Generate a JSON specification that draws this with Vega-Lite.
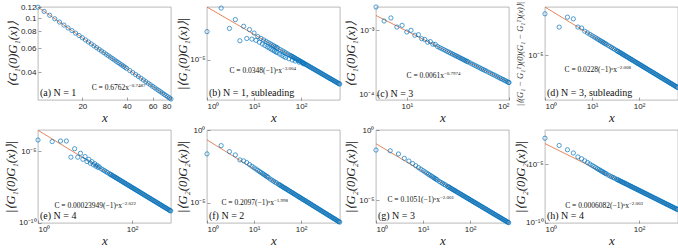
{
"$schema":"https://vega.github.io/schema/vega-lite/v6.json",
"padding":{"left":3,"top":1,"right":0,"bottom":0},
"background":"white",
"config":{
 "view":{"stroke":"#8c8c8c","strokeWidth":0.6},
 "axis":{"grid":false,"domain":false,"tickSize":-3,"tickColor":"#444","tickWidth":0.5,"labelFont":"Liberation Sans","labelFontSize":8,"labelColor":"#262626","labelPadding":5,"titleFont":"Liberation Serif","titleFontStyle":"italic","titleFontWeight":"normal","titleColor":"#262626"},
 "axisX":{"titleFontSize":13,"titleY":21,"titleBaseline":"alphabetic"},
 "axisY":{"titleFontSize":12.5},
 "point":{"opacity":0.9},
 "text":{"color":"#111"}
},
"datasets":{
"fit":[
{"p":"a","x":10,"y":0.1206},{"p":"a","x":80,"y":0.02542},
{"p":"b","x":1,"y":0.07},{"p":"b","x":660,"y":1.61e-7},
{"p":"c","x":5,"y":1.69e-3},{"p":"c","x":100,"y":1.55e-4},
{"p":"d","x":1,"y":0.023},{"p":"d","x":660,"y":5.28e-8},
{"p":"e","x":1,"y":3e-4},{"p":"e","x":660,"y":6.89e-10},
{"p":"f","x":1,"y":0.21},{"p":"f","x":660,"y":4.82e-7},
{"p":"g","x":1,"y":0.105},{"p":"g","x":660,"y":2.41e-7},
{"p":"h","x":1,"y":6e-4},{"p":"h","x":660,"y":1.38e-9}
],
"pts":[
{"p":"a","x":10,"y":0.1206},{"p":"a","x":11,"y":0.1123},{"p":"a","x":12,"y":0.1052},{"p":"a","x":13,"y":0.0991},{"p":"a","x":14,"y":0.09376},{"p":"a","x":15,"y":0.08902},{"p":"a","x":16,"y":0.08483},{"p":"a","x":17,"y":0.0811},{"p":"a","x":18,"y":0.07769},{"p":"a","x":19,"y":0.0746},{"p":"a","x":20,"y":0.0718},{"p":"a","x":21,"y":0.06923},{"p":"a","x":22,"y":0.06686},{"p":"a","x":23,"y":0.06467},{"p":"a","x":24,"y":0.06265},{"p":"a","x":25,"y":0.06076},{"p":"a","x":26,"y":0.059},{"p":"a","x":27,"y":0.05735},{"p":"a","x":28,"y":0.05581},{"p":"a","x":29,"y":0.05436},{"p":"a","x":30,"y":0.053},{"p":"a","x":31,"y":0.05171},{"p":"a","x":32,"y":0.0505},{"p":"a","x":33,"y":0.04934},{"p":"a","x":34,"y":0.04825},{"p":"a","x":35,"y":0.04721},{"p":"a","x":36,"y":0.04623},{"p":"a","x":37,"y":0.04529},{"p":"a","x":38,"y":0.04439},{"p":"a","x":39,"y":0.04354},{"p":"a","x":40,"y":0.04272},{"p":"a","x":42,"y":0.04119},{"p":"a","x":44,"y":0.03978},{"p":"a","x":46,"y":0.03848},{"p":"a","x":48,"y":0.03727},{"p":"a","x":50,"y":0.03615},{"p":"a","x":52,"y":0.0351},{"p":"a","x":54,"y":0.03412},{"p":"a","x":56,"y":0.0332},{"p":"a","x":58,"y":0.03235},{"p":"a","x":60,"y":0.03154},{"p":"a","x":62,"y":0.03077},{"p":"a","x":64,"y":0.03004},{"p":"a","x":66,"y":0.02937},{"p":"a","x":68,"y":0.02872},{"p":"a","x":70,"y":0.0281},{"p":"a","x":72,"y":0.02751},{"p":"a","x":74,"y":0.02696},{"p":"a","x":76,"y":0.02642},{"p":"a","x":78,"y":0.02592},{"p":"a","x":80,"y":0.02542},

{"p":"b","x":1,"y":0.00111},{"p":"b","x":2,"y":0.0593},{"p":"b","x":3,"y":0.00191},{"p":"b","x":4,"y":0.00853},{"p":"b","x":5,"y":0.000238},{"p":"b","x":6,"y":0.002748},{"p":"b","x":7,"y":0.000351},{"p":"b","x":8,"y":0.00158},{"p":"b","x":9,"y":0.000314},{"p":"b","x":10,"y":0.000881},{"p":"b","x":11,"y":2.586e-4},{"p":"b","x":12,"y":4.861e-4},{"p":"b","x":13,"y":1.851e-4},{"p":"b","x":14,"y":3.571e-4},{"p":"b","x":15,"y":1.391e-4},{"p":"b","x":16,"y":2.734e-4},{"p":"b","x":17,"y":1.083e-4},{"p":"b","x":18,"y":2.16e-4},{"p":"b","x":19,"y":8.67e-5},{"p":"b","x":20,"y":1.75e-4},{"p":"b","x":21,"y":7.09e-5},{"p":"b","x":22,"y":1.446e-4},{"p":"b","x":23,"y":5.92e-5},{"p":"b","x":24,"y":1.215e-4},{"p":"b","x":25,"y":5.01e-5},{"p":"b","x":26,"y":1.036e-4},{"p":"b","x":27,"y":4.29e-5},{"p":"b","x":28,"y":8.93e-5},{"p":"b","x":29,"y":3.72e-5},{"p":"b","x":30,"y":7.78e-5},{"p":"b","x":31,"y":3.26e-5},{"p":"b","x":32,"y":6.836e-5},{"p":"b","x":35,"y":2.55e-5},{"p":"b","x":36,"y":5.401e-5},{"p":"b","x":39,"y":2.06e-5},{"p":"b","x":40,"y":4.375e-5},{"p":"b","x":43,"y":1.69e-5},{"p":"b","x":44,"y":3.616e-5},{"p":"b","x":47,"y":1.42e-5},{"p":"b","x":48,"y":3.038e-5},{"p":"b","x":53,"y":2.492e-5},{"p":"b","x":55,"y":1.16e-5},{"p":"b","x":58,"y":2.081e-5},{"p":"b","x":64,"y":1.709e-5},{"p":"b","x":65,"y":9.31e-6},{"p":"b","x":70,"y":1.429e-5},{"p":"b","x":75,"y":7.85e-6},{"p":"b","x":77,"y":1.181e-5},{"p":"b","x":85,"y":9.69e-6},{"p":"b","x":91,"y":6.42e-6},{"p":"b","x":93,"y":8.09e-6},{"p":"b","x":102,"y":6.73e-6},{"p":"b","x":111,"y":4.95e-6},{"p":"b","x":112,"y":5.58e-6},{"p":"b","x":123,"y":4.63e-6},{"p":"b","x":135,"y":3.84e-6},{"p":"b","x":148,"y":3.2e-6},{"p":"b","x":163,"y":2.63e-6},{"p":"b","x":179,"y":2.18e-6},{"p":"b","x":197,"y":1.8e-6},{"p":"b","x":217,"y":1.49e-6},{"p":"b","x":238,"y":1.24e-6},{"p":"b","x":262,"y":1.02e-6},{"p":"b","x":288,"y":8.44e-7},{"p":"b","x":317,"y":6.97e-7},{"p":"b","x":349,"y":5.75e-7},{"p":"b","x":384,"y":4.75e-7},{"p":"b","x":422,"y":3.93e-7},{"p":"b","x":464,"y":3.25e-7},{"p":"b","x":510,"y":2.69e-7},{"p":"b","x":560,"y":2.23e-7},{"p":"b","x":616,"y":1.84e-7},{"p":"b","x":660,"y":1.61e-7},
{"p":"b","x":61,"y":1.881e-5},{"p":"b","x":67,"y":1.559e-5},{"p":"b","x":73,"y":1.314e-5},{"p":"b","x":81,"y":1.067e-5},{"p":"b","x":89,"y":8.84e-6},{"p":"b","x":97,"y":7.44e-6},{"p":"b","x":107,"y":6.11e-6},{"p":"b","x":117,"y":5.11e-6},{"p":"b","x":129,"y":4.21e-6},{"p":"b","x":141,"y":3.52e-6},{"p":"b","x":155,"y":2.91e-6},{"p":"b","x":171,"y":2.39e-6},{"p":"b","x":188,"y":1.98e-6},{"p":"b","x":207,"y":1.63e-6},{"p":"b","x":227,"y":1.358e-6},{"p":"b","x":250,"y":1.12e-6},{"p":"b","x":275,"y":9.26e-7},{"p":"b","x":302,"y":7.67e-7},{"p":"b","x":333,"y":6.31e-7},{"p":"b","x":366,"y":5.23e-7},{"p":"b","x":403,"y":4.31e-7},{"p":"b","x":443,"y":3.57e-7},{"p":"b","x":487,"y":2.95e-7},{"p":"b","x":535,"y":2.45e-7},{"p":"b","x":588,"y":2.02e-7},{"p":"b","x":638,"y":1.72e-7},

{"p":"c","x":5,"y":2.29e-3},{"p":"c","x":6,"y":1.39e-3},{"p":"c","x":7,"y":1.55e-3},{"p":"c","x":8,"y":1.12e-3},{"p":"c","x":9,"y":1.19e-3},{"p":"c","x":10,"y":9.4e-4},{"p":"c","x":11,"y":9.98e-4},{"p":"c","x":12,"y":8.36e-4},{"p":"c","x":13,"y":8.53e-4},{"p":"c","x":14,"y":7.4e-4},{"p":"c","x":15,"y":7.2e-4},{"p":"c","x":16,"y":6.53e-4},{"p":"c","x":17,"y":6.67e-4},{"p":"c","x":18,"y":6.08e-4},{"p":"c","x":19,"y":6.04e-4},{"p":"c","x":20,"y":5.6e-4},{"p":"c","x":21,"y":5.38e-4},{"p":"c","x":22,"y":5.19e-4},{"p":"c","x":23,"y":5.01e-4},{"p":"c","x":24,"y":4.84e-4},{"p":"c","x":25,"y":4.68e-4},{"p":"c","x":26,"y":4.54e-4},{"p":"c","x":27,"y":4.4e-4},{"p":"c","x":28,"y":4.28e-4},{"p":"c","x":29,"y":4.16e-4},{"p":"c","x":30,"y":4.05e-4},{"p":"c","x":31,"y":3.95e-4},{"p":"c","x":32,"y":3.85e-4},{"p":"c","x":33,"y":3.75e-4},{"p":"c","x":34,"y":3.67e-4},{"p":"c","x":35,"y":3.58e-4},{"p":"c","x":36,"y":3.5e-4},{"p":"c","x":37,"y":3.43e-4},{"p":"c","x":38,"y":3.35e-4},{"p":"c","x":39,"y":3.29e-4},{"p":"c","x":40,"y":3.22e-4},{"p":"c","x":42,"y":3.1e-4},{"p":"c","x":44,"y":2.98e-4},{"p":"c","x":46,"y":2.88e-4},{"p":"c","x":48,"y":2.78e-4},{"p":"c","x":50,"y":2.69e-4},{"p":"c","x":52,"y":2.61e-4},{"p":"c","x":54,"y":2.53e-4},{"p":"c","x":56,"y":2.46e-4},{"p":"c","x":58,"y":2.39e-4},{"p":"c","x":60,"y":2.33e-4},{"p":"c","x":63,"y":2.24e-4},{"p":"c","x":66,"y":2.16e-4},{"p":"c","x":69,"y":2.08e-4},{"p":"c","x":72,"y":2.02e-4},{"p":"c","x":75,"y":1.95e-4},{"p":"c","x":78,"y":1.89e-4},{"p":"c","x":81,"y":1.83e-4},{"p":"c","x":84,"y":1.78e-4},{"p":"c","x":87,"y":1.73e-4},{"p":"c","x":90,"y":1.69e-4},{"p":"c","x":93,"y":1.64e-4},{"p":"c","x":96,"y":1.6e-4},{"p":"c","x":99,"y":1.56e-4},{"p":"c","x":100,"y":1.55e-4},

{"p":"d","x":1,"y":0.0078},{"p":"d","x":2,"y":9.1e-4},{"p":"d","x":3,"y":4.54e-3},{"p":"d","x":4,"y":3.45e-3},{"p":"d","x":5,"y":9.2e-4},{"p":"d","x":6,"y":7.86e-4},{"p":"d","x":7,"y":4.69e-4},{"p":"d","x":8,"y":3.59e-4},{"p":"d","x":9,"y":2.84e-4},{"p":"d","x":10,"y":2.3e-4},{"p":"d","x":11,"y":1.9e-4},{"p":"d","x":12,"y":1.6e-4},{"p":"d","x":13,"y":1.36e-4},{"p":"d","x":14,"y":1.17e-4},{"p":"d","x":15,"y":1.02e-4},{"p":"d","x":16,"y":8.98e-5},{"p":"d","x":17,"y":7.96e-5},{"p":"d","x":18,"y":7.1e-5},{"p":"d","x":19,"y":6.37e-5},{"p":"d","x":20,"y":5.75e-5},{"p":"d","x":22,"y":4.75e-5},{"p":"d","x":24,"y":3.99e-5},{"p":"d","x":26,"y":3.4e-5},{"p":"d","x":28,"y":2.93e-5},{"p":"d","x":30,"y":2.56e-5},{"p":"d","x":33,"y":2.11e-5},{"p":"d","x":36,"y":1.77e-5},{"p":"d","x":40,"y":1.44e-5},{"p":"d","x":44,"y":1.19e-5},{"p":"d","x":48,"y":9.98e-6},{"p":"d","x":53,"y":8.19e-6},{"p":"d","x":58,"y":6.84e-6},{"p":"d","x":64,"y":5.62e-6},{"p":"d","x":70,"y":4.69e-6},{"p":"d","x":77,"y":3.88e-6},{"p":"d","x":85,"y":3.18e-6},{"p":"d","x":93,"y":2.66e-6},{"p":"d","x":102,"y":2.21e-6},{"p":"d","x":112,"y":1.83e-6},{"p":"d","x":123,"y":1.52e-6},{"p":"d","x":135,"y":1.26e-6},{"p":"d","x":148,"y":1.05e-6},{"p":"d","x":163,"y":8.66e-7},{"p":"d","x":179,"y":7.18e-7},{"p":"d","x":197,"y":5.93e-7},{"p":"d","x":217,"y":4.88e-7},{"p":"d","x":238,"y":4.06e-7},{"p":"d","x":262,"y":3.35e-7},{"p":"d","x":288,"y":2.77e-7},{"p":"d","x":317,"y":2.29e-7},{"p":"d","x":349,"y":1.89e-7},{"p":"d","x":384,"y":1.56e-7},{"p":"d","x":422,"y":1.29e-7},{"p":"d","x":464,"y":1.07e-7},{"p":"d","x":510,"y":8.84e-8},{"p":"d","x":560,"y":7.33e-8},{"p":"d","x":616,"y":6.06e-8},{"p":"d","x":660,"y":5.28e-8},
{"p":"d","x":35,"y":1.878e-5},{"p":"d","x":38,"y":1.593e-5},{"p":"d","x":42,"y":1.304e-5},{"p":"d","x":46,"y":1.087e-5},{"p":"d","x":50,"y":9.2e-6},{"p":"d","x":55,"y":7.6e-6},{"p":"d","x":61,"y":6.18e-6},{"p":"d","x":67,"y":5.12e-6},{"p":"d","x":73,"y":4.32e-6},{"p":"d","x":81,"y":3.51e-6},{"p":"d","x":89,"y":2.9e-6},{"p":"d","x":97,"y":2.44e-6},{"p":"d","x":107,"y":2.01e-6},{"p":"d","x":117,"y":1.68e-6},{"p":"d","x":129,"y":1.38e-6},{"p":"d","x":141,"y":1.157e-6},{"p":"d","x":155,"y":9.57e-7},{"p":"d","x":171,"y":7.87e-7},{"p":"d","x":188,"y":6.51e-7},{"p":"d","x":207,"y":5.37e-7},{"p":"d","x":227,"y":4.46e-7},{"p":"d","x":250,"y":3.68e-7},{"p":"d","x":275,"y":3.04e-7},{"p":"d","x":302,"y":2.52e-7},{"p":"d","x":333,"y":2.07e-7},{"p":"d","x":366,"y":1.72e-7},{"p":"d","x":403,"y":1.416e-7},{"p":"d","x":443,"y":1.172e-7},{"p":"d","x":487,"y":9.7e-8},{"p":"d","x":535,"y":8.04e-8},{"p":"d","x":588,"y":6.65e-8},{"p":"d","x":638,"y":5.65e-8},

{"p":"e","x":1,"y":6.31e-5},{"p":"e","x":2,"y":4.9e-5},{"p":"e","x":3,"y":5.37e-5},{"p":"e","x":4,"y":5.37e-5},{"p":"e","x":5,"y":3.98e-6},{"p":"e","x":6,"y":1.55e-5},{"p":"e","x":7,"y":3.98e-6},{"p":"e","x":8,"y":7.41e-6},{"p":"e","x":9,"y":2.82e-6},{"p":"e","x":10,"y":4.37e-6},{"p":"e","x":11,"y":1.97e-6},{"p":"e","x":12,"y":2.81e-6},{"p":"e","x":13,"y":1.48e-6},{"p":"e","x":14,"y":1.93e-6},{"p":"e","x":15,"y":1.16e-6},{"p":"e","x":16,"y":1.41e-6},{"p":"e","x":17,"y":9.25e-7},{"p":"e","x":18,"y":1.06e-6},{"p":"e","x":19,"y":7.58e-7},{"p":"e","x":20,"y":8.42e-7},{"p":"e","x":22,"y":6.2e-7},{"p":"e","x":24,"y":5.21e-7},{"p":"e","x":26,"y":4.44e-7},{"p":"e","x":28,"y":3.83e-7},{"p":"e","x":30,"y":3.33e-7},{"p":"e","x":33,"y":2.75e-7},{"p":"e","x":36,"y":2.31e-7},{"p":"e","x":40,"y":1.88e-7},{"p":"e","x":44,"y":1.55e-7},{"p":"e","x":48,"y":1.3e-7},{"p":"e","x":53,"y":1.07e-7},{"p":"e","x":58,"y":8.92e-8},{"p":"e","x":64,"y":7.32e-8},{"p":"e","x":70,"y":6.12e-8},{"p":"e","x":77,"y":5.06e-8},{"p":"e","x":85,"y":4.15e-8},{"p":"e","x":93,"y":3.47e-8},{"p":"e","x":102,"y":2.88e-8},{"p":"e","x":112,"y":2.39e-8},{"p":"e","x":123,"y":1.98e-8},{"p":"e","x":135,"y":1.65e-8},{"p":"e","x":148,"y":1.37e-8},{"p":"e","x":163,"y":1.13e-8},{"p":"e","x":179,"y":9.36e-9},{"p":"e","x":197,"y":7.73e-9},{"p":"e","x":217,"y":6.37e-9},{"p":"e","x":238,"y":5.3e-9},{"p":"e","x":262,"y":4.37e-9},{"p":"e","x":288,"y":3.62e-9},{"p":"e","x":317,"y":2.99e-9},{"p":"e","x":349,"y":2.46e-9},{"p":"e","x":384,"y":2.03e-9},{"p":"e","x":422,"y":1.68e-9},{"p":"e","x":464,"y":1.39e-9},{"p":"e","x":510,"y":1.15e-9},{"p":"e","x":560,"y":9.57e-10},{"p":"e","x":616,"y":7.91e-10},{"p":"e","x":660,"y":6.89e-10},
{"p":"e","x":35,"y":2.449e-7},{"p":"e","x":38,"y":2.078e-7},{"p":"e","x":42,"y":1.701e-7},{"p":"e","x":46,"y":1.418e-7},{"p":"e","x":50,"y":1.2e-7},{"p":"e","x":55,"y":9.92e-8},{"p":"e","x":61,"y":8.06e-8},{"p":"e","x":67,"y":6.68e-8},{"p":"e","x":73,"y":5.63e-8},{"p":"e","x":81,"y":4.57e-8},{"p":"e","x":89,"y":3.79e-8},{"p":"e","x":97,"y":3.19e-8},{"p":"e","x":107,"y":2.62e-8},{"p":"e","x":117,"y":2.19e-8},{"p":"e","x":129,"y":1.8e-8},{"p":"e","x":141,"y":1.509e-8},{"p":"e","x":155,"y":1.249e-8},{"p":"e","x":171,"y":1.026e-8},{"p":"e","x":188,"y":8.49e-9},{"p":"e","x":207,"y":7e-9},{"p":"e","x":227,"y":5.82e-9},{"p":"e","x":250,"y":4.8e-9},{"p":"e","x":275,"y":3.97e-9},{"p":"e","x":302,"y":3.29e-9},{"p":"e","x":333,"y":2.71e-9},{"p":"e","x":366,"y":2.24e-9},{"p":"e","x":403,"y":1.847e-9},{"p":"e","x":443,"y":1.529e-9},{"p":"e","x":487,"y":1.265e-9},{"p":"e","x":535,"y":1.048e-9},{"p":"e","x":588,"y":8.68e-10},{"p":"e","x":638,"y":7.37e-10},

{"p":"f","x":1,"y":0.023},{"p":"f","x":2,"y":0.085},{"p":"f","x":3,"y":0.033},{"p":"f","x":4,"y":0.0195},{"p":"f","x":5,"y":0.0089},{"p":"f","x":6,"y":0.0076},{"p":"f","x":7,"y":0.0058},{"p":"f","x":8,"y":4.23e-3},{"p":"f","x":9,"y":3.26e-3},{"p":"f","x":10,"y":2.58e-3},{"p":"f","x":11,"y":2.09e-3},{"p":"f","x":12,"y":1.71e-3},{"p":"f","x":13,"y":1.43e-3},{"p":"f","x":14,"y":1.23e-3},{"p":"f","x":15,"y":1.05e-3},{"p":"f","x":16,"y":9.2e-4},{"p":"f","x":17,"y":7.97e-4},{"p":"f","x":18,"y":7.1e-4},{"p":"f","x":19,"y":6.24e-4},{"p":"f","x":20,"y":5.63e-4},{"p":"f","x":22,"y":4.34e-4},{"p":"f","x":24,"y":3.65e-4},{"p":"f","x":26,"y":3.11e-4},{"p":"f","x":28,"y":2.68e-4},{"p":"f","x":30,"y":2.33e-4},{"p":"f","x":33,"y":1.93e-4},{"p":"f","x":36,"y":1.62e-4},{"p":"f","x":40,"y":1.31e-4},{"p":"f","x":44,"y":1.08e-4},{"p":"f","x":48,"y":9.11e-5},{"p":"f","x":53,"y":7.48e-5},{"p":"f","x":58,"y":6.24e-5},{"p":"f","x":64,"y":5.13e-5},{"p":"f","x":70,"y":4.29e-5},{"p":"f","x":77,"y":3.54e-5},{"p":"f","x":85,"y":2.91e-5},{"p":"f","x":93,"y":2.43e-5},{"p":"f","x":102,"y":2.02e-5},{"p":"f","x":112,"y":1.67e-5},{"p":"f","x":123,"y":1.39e-5},{"p":"f","x":135,"y":1.15e-5},{"p":"f","x":148,"y":9.59e-6},{"p":"f","x":163,"y":7.9e-6},{"p":"f","x":179,"y":6.55e-6},{"p":"f","x":197,"y":5.41e-6},{"p":"f","x":217,"y":4.46e-6},{"p":"f","x":238,"y":3.71e-6},{"p":"f","x":262,"y":3.06e-6},{"p":"f","x":288,"y":2.53e-6},{"p":"f","x":317,"y":2.09e-6},{"p":"f","x":349,"y":1.72e-6},{"p":"f","x":384,"y":1.42e-6},{"p":"f","x":422,"y":1.18e-6},{"p":"f","x":464,"y":9.75e-7},{"p":"f","x":510,"y":8.07e-7},{"p":"f","x":560,"y":6.7e-7},{"p":"f","x":616,"y":5.53e-7},{"p":"f","x":660,"y":4.82e-7},
{"p":"f","x":35,"y":1.714e-4},{"p":"f","x":38,"y":1.454e-4},{"p":"f","x":42,"y":1.19e-4},{"p":"f","x":46,"y":9.92e-5},{"p":"f","x":50,"y":8.4e-5},{"p":"f","x":55,"y":6.94e-5},{"p":"f","x":61,"y":5.64e-5},{"p":"f","x":67,"y":4.68e-5},{"p":"f","x":73,"y":3.94e-5},{"p":"f","x":81,"y":3.2e-5},{"p":"f","x":89,"y":2.65e-5},{"p":"f","x":97,"y":2.23e-5},{"p":"f","x":107,"y":1.834e-5},{"p":"f","x":117,"y":1.534e-5},{"p":"f","x":129,"y":1.262e-5},{"p":"f","x":141,"y":1.056e-5},{"p":"f","x":155,"y":8.74e-6},{"p":"f","x":171,"y":7.18e-6},{"p":"f","x":188,"y":5.94e-6},{"p":"f","x":207,"y":4.9e-6},{"p":"f","x":227,"y":4.08e-6},{"p":"f","x":250,"y":3.36e-6},{"p":"f","x":275,"y":2.78e-6},{"p":"f","x":302,"y":2.3e-6},{"p":"f","x":333,"y":1.894e-6},{"p":"f","x":366,"y":1.568e-6},{"p":"f","x":403,"y":1.293e-6},{"p":"f","x":443,"y":1.07e-6},{"p":"f","x":487,"y":8.85e-7},{"p":"f","x":535,"y":7.34e-7},{"p":"f","x":588,"y":6.07e-7},{"p":"f","x":638,"y":5.16e-7},

{"p":"g","x":1,"y":0.037},{"p":"g","x":2,"y":0.033},{"p":"g","x":3,"y":0.0194},{"p":"g","x":4,"y":0.0095},{"p":"g","x":5,"y":0.0061},{"p":"g","x":6,"y":4.03e-3},{"p":"g","x":7,"y":2.82e-3},{"p":"g","x":8,"y":2.07e-3},{"p":"g","x":9,"y":1.59e-3},{"p":"g","x":10,"y":1.26e-3},{"p":"g","x":11,"y":1.02e-3},{"p":"g","x":12,"y":8.37e-4},{"p":"g","x":13,"y":6.97e-4},{"p":"g","x":14,"y":6.01e-4},{"p":"g","x":15,"y":5.12e-4},{"p":"g","x":16,"y":4.49e-4},{"p":"g","x":17,"y":3.89e-4},{"p":"g","x":18,"y":3.47e-4},{"p":"g","x":19,"y":3.05e-4},{"p":"g","x":20,"y":2.75e-4},{"p":"g","x":22,"y":2.17e-4},{"p":"g","x":24,"y":1.82e-4},{"p":"g","x":26,"y":1.55e-4},{"p":"g","x":28,"y":1.34e-4},{"p":"g","x":30,"y":1.17e-4},{"p":"g","x":33,"y":9.64e-5},{"p":"g","x":36,"y":8.1e-5},{"p":"g","x":40,"y":6.56e-5},{"p":"g","x":44,"y":5.42e-5},{"p":"g","x":48,"y":4.56e-5},{"p":"g","x":53,"y":3.74e-5},{"p":"g","x":58,"y":3.12e-5},{"p":"g","x":64,"y":2.56e-5},{"p":"g","x":70,"y":2.14e-5},{"p":"g","x":77,"y":1.77e-5},{"p":"g","x":85,"y":1.45e-5},{"p":"g","x":93,"y":1.21e-5},{"p":"g","x":102,"y":1.01e-5},{"p":"g","x":112,"y":8.37e-6},{"p":"g","x":123,"y":6.94e-6},{"p":"g","x":135,"y":5.76e-6},{"p":"g","x":148,"y":4.79e-6},{"p":"g","x":163,"y":3.95e-6},{"p":"g","x":179,"y":3.28e-6},{"p":"g","x":197,"y":2.71e-6},{"p":"g","x":217,"y":2.23e-6},{"p":"g","x":238,"y":1.85e-6},{"p":"g","x":262,"y":1.53e-6},{"p":"g","x":288,"y":1.27e-6},{"p":"g","x":317,"y":1.04e-6},{"p":"g","x":349,"y":8.62e-7},{"p":"g","x":384,"y":7.12e-7},{"p":"g","x":422,"y":5.9e-7},{"p":"g","x":464,"y":4.88e-7},{"p":"g","x":510,"y":4.04e-7},{"p":"g","x":560,"y":3.35e-7},{"p":"g","x":616,"y":2.77e-7},{"p":"g","x":660,"y":2.41e-7},
{"p":"g","x":35,"y":8.57e-5},{"p":"g","x":38,"y":7.27e-5},{"p":"g","x":42,"y":5.95e-5},{"p":"g","x":46,"y":4.96e-5},{"p":"g","x":50,"y":4.2e-5},{"p":"g","x":55,"y":3.47e-5},{"p":"g","x":61,"y":2.82e-5},{"p":"g","x":67,"y":2.34e-5},{"p":"g","x":73,"y":1.97e-5},{"p":"g","x":81,"y":1.6e-5},{"p":"g","x":89,"y":1.326e-5},{"p":"g","x":97,"y":1.116e-5},{"p":"g","x":107,"y":9.17e-6},{"p":"g","x":117,"y":7.67e-6},{"p":"g","x":129,"y":6.31e-6},{"p":"g","x":141,"y":5.28e-6},{"p":"g","x":155,"y":4.37e-6},{"p":"g","x":171,"y":3.59e-6},{"p":"g","x":188,"y":2.97e-6},{"p":"g","x":207,"y":2.45e-6},{"p":"g","x":227,"y":2.04e-6},{"p":"g","x":250,"y":1.68e-6},{"p":"g","x":275,"y":1.389e-6},{"p":"g","x":302,"y":1.151e-6},{"p":"g","x":333,"y":9.47e-7},{"p":"g","x":366,"y":7.84e-7},{"p":"g","x":403,"y":6.47e-7},{"p":"g","x":443,"y":5.35e-7},{"p":"g","x":487,"y":4.43e-7},{"p":"g","x":535,"y":3.67e-7},{"p":"g","x":588,"y":3.04e-7},{"p":"g","x":638,"y":2.58e-7},

{"p":"h","x":1,"y":1.73e-3},{"p":"h","x":2,"y":4.13e-4},{"p":"h","x":3,"y":1.79e-4},{"p":"h","x":4,"y":9.42e-5},{"p":"h","x":5,"y":4.37e-5},{"p":"h","x":6,"y":3.03e-5},{"p":"h","x":7,"y":2.03e-5},{"p":"h","x":8,"y":1.45e-5},{"p":"h","x":9,"y":1.07e-5},{"p":"h","x":10,"y":8.28e-6},{"p":"h","x":11,"y":6.54e-6},{"p":"h","x":12,"y":5.25e-6},{"p":"h","x":13,"y":4.27e-6},{"p":"h","x":14,"y":3.6e-6},{"p":"h","x":15,"y":3.06e-6},{"p":"h","x":16,"y":2.63e-6},{"p":"h","x":17,"y":2.28e-6},{"p":"h","x":18,"y":1.99e-6},{"p":"h","x":19,"y":1.74e-6},{"p":"h","x":20,"y":1.57e-6},{"p":"h","x":22,"y":1.24e-6},{"p":"h","x":24,"y":1.04e-6},{"p":"h","x":26,"y":8.88e-7},{"p":"h","x":28,"y":7.65e-7},{"p":"h","x":30,"y":6.67e-7},{"p":"h","x":33,"y":5.51e-7},{"p":"h","x":36,"y":4.63e-7},{"p":"h","x":40,"y":3.75e-7},{"p":"h","x":44,"y":3.1e-7},{"p":"h","x":48,"y":2.6e-7},{"p":"h","x":53,"y":2.14e-7},{"p":"h","x":58,"y":1.78e-7},{"p":"h","x":64,"y":1.46e-7},{"p":"h","x":70,"y":1.22e-7},{"p":"h","x":77,"y":1.01e-7},{"p":"h","x":85,"y":8.3e-8},{"p":"h","x":93,"y":6.94e-8},{"p":"h","x":102,"y":5.77e-8},{"p":"h","x":112,"y":4.78e-8},{"p":"h","x":123,"y":3.97e-8},{"p":"h","x":135,"y":3.29e-8},{"p":"h","x":148,"y":2.74e-8},{"p":"h","x":163,"y":2.26e-8},{"p":"h","x":179,"y":1.87e-8},{"p":"h","x":197,"y":1.55e-8},{"p":"h","x":217,"y":1.27e-8},{"p":"h","x":238,"y":1.06e-8},{"p":"h","x":262,"y":8.74e-9},{"p":"h","x":288,"y":7.23e-9},{"p":"h","x":317,"y":5.97e-9},{"p":"h","x":349,"y":4.93e-9},{"p":"h","x":384,"y":4.07e-9},{"p":"h","x":422,"y":3.37e-9},{"p":"h","x":464,"y":2.79e-9},{"p":"h","x":510,"y":2.31e-9},{"p":"h","x":560,"y":1.91e-9},{"p":"h","x":616,"y":1.58e-9},{"p":"h","x":660,"y":1.38e-9},
{"p":"h","x":35,"y":4.898e-7},{"p":"h","x":38,"y":4.155e-7},{"p":"h","x":42,"y":3.401e-7},{"p":"h","x":46,"y":2.836e-7},{"p":"h","x":50,"y":2.4e-7},{"p":"h","x":55,"y":1.983e-7},{"p":"h","x":61,"y":1.612e-7},{"p":"h","x":67,"y":1.337e-7},{"p":"h","x":73,"y":1.126e-7},{"p":"h","x":81,"y":9.15e-8},{"p":"h","x":89,"y":7.58e-8},{"p":"h","x":97,"y":6.38e-8},{"p":"h","x":107,"y":5.24e-8},{"p":"h","x":117,"y":4.38e-8},{"p":"h","x":129,"y":3.61e-8},{"p":"h","x":141,"y":3.02e-8},{"p":"h","x":155,"y":2.5e-8},{"p":"h","x":171,"y":2.05e-8},{"p":"h","x":188,"y":1.7e-8},{"p":"h","x":207,"y":1.4e-8},{"p":"h","x":227,"y":1.164e-8},{"p":"h","x":250,"y":9.6e-9},{"p":"h","x":275,"y":7.93e-9},{"p":"h","x":302,"y":6.58e-9},{"p":"h","x":333,"y":5.41e-9},{"p":"h","x":366,"y":4.48e-9},{"p":"h","x":403,"y":3.69e-9},{"p":"h","x":443,"y":3.06e-9},{"p":"h","x":487,"y":2.53e-9},{"p":"h","x":535,"y":2.1e-9},{"p":"h","x":588,"y":1.735e-9},{"p":"h","x":638,"y":1.474e-9}
]
},
"columns":4,
"spacing":{"row":30,"column":36},
"bounds":"flush",
"concat":[
{"width":133,"height":93,"layer":[
 {"data":{"name":"fit"},"transform":[{"filter":"datum.p=='a'"}],"mark":{"type":"line","stroke":"#D95319","strokeWidth":0.7},
  "encoding":{"x":{"field":"x","type":"quantitative","scale":{"type":"log","domain":[10,80],"nice":false},"axis":{"values":[20,40,60,80],"format":"d","title":"x"}},
   "y":{"field":"y","type":"quantitative","scale":{"type":"log","domain":[0.025,0.121],"nice":false},"axis":{"values":[0.04,0.06,0.08,0.1,0.12],"format":".2~f","title":"⟨G₁(0)G₁(x)⟩","titleX":-19}}}},
 {"data":{"name":"pts"},"transform":[{"filter":"datum.p=='a'"}],"mark":{"type":"point","shape":"circle","filled":false,"size":18,"stroke":"#0072BD","strokeWidth":0.75},
  "encoding":{"x":{"field":"x","type":"quantitative"},"y":{"field":"y","type":"quantitative"}}},
 {"data":{"values":[{}]},"mark":{"type":"text","align":"left","baseline":"alphabetic","font":"Liberation Serif","fontSize":10},"encoding":{"x":{"datum":10.3},"y":{"datum":0.02675},"text":{"value":"(a) N = 1"}}},
 {"data":{"values":[{}]},"mark":{"type":"text","align":"right","baseline":"alphabetic","font":"Liberation Serif","fontSize":7.5},"encoding":{"x":{"datum":41.5},"y":{"datum":0.02961},"text":{"value":"C = 0.6762x"}}},
 {"data":{"values":[{}]},"mark":{"type":"text","align":"left","baseline":"alphabetic","font":"Liberation Serif","fontSize":5},"encoding":{"x":{"datum":41.5},"y":{"datum":0.03115},"text":{"value":"−0.7487"}}}
]},
{"width":133,"height":93,"layer":[
 {"data":{"name":"fit"},"transform":[{"filter":"datum.p=='b'"}],"mark":{"type":"line","stroke":"#D95319","strokeWidth":0.7},
  "encoding":{"x":{"field":"x","type":"quantitative","scale":{"type":"log","domain":[1,670],"nice":false},"axis":{"values":[1,10,100],"labelExpr":"'10' + replace(replace(replace(replace(replace(replace(replace('' + round(log(datum.value)/LN10), '-', '⁻'), '0', '⁰'), '1', '¹'), '2', '²'), '3', '³'), '4', '⁴'), '5', '⁵')","title":"x"}},
   "y":{"field":"y","type":"quantitative","scale":{"type":"log","domain":[1.1e-8,0.0708],"nice":false},"axis":{"values":[1e-5],"labelExpr":"'10' + replace(replace(replace(replace(replace(replace(replace('' + round(log(datum.value)/LN10), '-', '⁻'), '0', '⁰'), '1', '¹'), '2', '²'), '3', '³'), '4', '⁴'), '5', '⁵')","title":"|⟨G₁(0)G₁(x)⟩|","titleX":-18}}}},
 {"data":{"name":"pts"},"transform":[{"filter":"datum.p=='b'"}],"mark":{"type":"point","shape":"circle","filled":false,"size":18,"stroke":"#0072BD","strokeWidth":0.75},
  "encoding":{"x":{"field":"x","type":"quantitative"},"y":{"field":"y","type":"quantitative"}}},
 {"data":{"values":[{}]},"mark":{"type":"text","align":"left","baseline":"alphabetic","font":"Liberation Serif","fontSize":10},"encoding":{"x":{"datum":1.1},"y":{"datum":2.16e-8},"text":{"value":"(b) N = 1, subleading"}}},
 {"data":{"values":[{}]},"mark":{"type":"text","align":"right","baseline":"alphabetic","font":"Liberation Serif","fontSize":7.5},"encoding":{"x":{"datum":39.2},"y":{"datum":1.04e-6},"text":{"value":"C = 0.0348(−1)ˣx"}}},
 {"data":{"values":[{}]},"mark":{"type":"text","align":"left","baseline":"alphabetic","font":"Liberation Serif","fontSize":5},"encoding":{"x":{"datum":39.2},"y":{"datum":1.73e-6},"text":{"value":"−3.004"}}}
]},
{"width":133,"height":93,"layer":[
 {"data":{"name":"fit"},"transform":[{"filter":"datum.p=='c'"}],"mark":{"type":"line","stroke":"#D95319","strokeWidth":0.7},
  "encoding":{"x":{"field":"x","type":"quantitative","scale":{"type":"log","domain":[5,100],"nice":false},"axis":{"values":[10,100],"labelExpr":"'10' + replace(replace(replace(replace(replace(replace(replace('' + round(log(datum.value)/LN10), '-', '⁻'), '0', '⁰'), '1', '¹'), '2', '²'), '3', '³'), '4', '⁴'), '5', '⁵')","title":"x"}},
   "y":{"field":"y","type":"quantitative","scale":{"type":"log","domain":[8.32e-5,2.29e-3],"nice":false},"axis":{"values":[1e-4,1e-3],"labelExpr":"'10' + replace(replace(replace(replace(replace(replace(replace('' + round(log(datum.value)/LN10), '-', '⁻'), '0', '⁰'), '1', '¹'), '2', '²'), '3', '³'), '4', '⁴'), '5', '⁵')","title":"⟨G₁(0)G₁(x)⟩","titleX":-19}}}},
 {"data":{"name":"pts"},"transform":[{"filter":"datum.p=='c'"}],"mark":{"type":"point","shape":"circle","filled":false,"size":18,"stroke":"#0072BD","strokeWidth":0.75},
  "encoding":{"x":{"field":"x","type":"quantitative"},"y":{"field":"y","type":"quantitative"}}},
 {"data":{"values":[{}]},"mark":{"type":"text","align":"left","baseline":"alphabetic","font":"Liberation Serif","fontSize":10},"encoding":{"x":{"datum":5.1},"y":{"datum":9.26e-5},"text":{"value":"(c) N = 3"}}},
 {"data":{"values":[{}]},"mark":{"type":"text","align":"right","baseline":"alphabetic","font":"Liberation Serif","fontSize":7.5},"encoding":{"x":{"datum":23.1},"y":{"datum":1.82e-4},"text":{"value":"C = 0.0061x"}}},
 {"data":{"values":[{}]},"mark":{"type":"text","align":"left","baseline":"alphabetic","font":"Liberation Serif","fontSize":5},"encoding":{"x":{"datum":23.1},"y":{"datum":2.03e-4},"text":{"value":"−0.7974"}}}
]},
{"width":133,"height":93,"layer":[
 {"data":{"name":"fit"},"transform":[{"filter":"datum.p=='d'"}],"mark":{"type":"line","stroke":"#D95319","strokeWidth":0.7},
  "encoding":{"x":{"field":"x","type":"quantitative","scale":{"type":"log","domain":[1,670],"nice":false},"axis":{"values":[1,10,100],"labelExpr":"'10' + replace(replace(replace(replace(replace(replace(replace('' + round(log(datum.value)/LN10), '-', '⁻'), '0', '⁰'), '1', '¹'), '2', '²'), '3', '³'), '4', '⁴'), '5', '⁵')","title":"x"}},
   "y":{"field":"y","type":"quantitative","scale":{"type":"log","domain":[7.08e-9,0.02344],"nice":false},"axis":{"values":[1e-5],"labelExpr":"'10' + replace(replace(replace(replace(replace(replace(replace('' + round(log(datum.value)/LN10), '-', '⁻'), '0', '⁰'), '1', '¹'), '2', '²'), '3', '³'), '4', '⁴'), '5', '⁵')","title":"|⟨(G₁ − G₁ᵀ)(0)(G₁ − G₁ᵀ)(x)⟩|","titleFontSize":8.5,"titleX":-21}}}},
 {"data":{"name":"pts"},"transform":[{"filter":"datum.p=='d'"}],"mark":{"type":"point","shape":"circle","filled":false,"size":18,"stroke":"#0072BD","strokeWidth":0.75},
  "encoding":{"x":{"field":"x","type":"quantitative"},"y":{"field":"y","type":"quantitative"}}},
 {"data":{"values":[{}]},"mark":{"type":"text","align":"left","baseline":"alphabetic","font":"Liberation Serif","fontSize":10},"encoding":{"x":{"datum":1.1},"y":{"datum":1.35e-8},"text":{"value":"(d) N = 3, subleading"}}},
 {"data":{"values":[{}]},"mark":{"type":"text","align":"right","baseline":"alphabetic","font":"Liberation Serif","fontSize":7.5},"encoding":{"x":{"datum":33.9},"y":{"datum":6.5e-7},"text":{"value":"C = 0.0228(−1)ˣx"}}},
 {"data":{"values":[{}]},"mark":{"type":"text","align":"left","baseline":"alphabetic","font":"Liberation Serif","fontSize":5},"encoding":{"x":{"datum":33.9},"y":{"datum":1.055e-6},"text":{"value":"−2.008"}}}
]},
{"width":133,"height":93,"layer":[
 {"data":{"name":"fit"},"transform":[{"filter":"datum.p=='e'"}],"mark":{"type":"line","stroke":"#D95319","strokeWidth":0.7},
  "encoding":{"x":{"field":"x","type":"quantitative","scale":{"type":"log","domain":[1,670],"nice":false},"axis":{"values":[1,100],"labelExpr":"'10' + replace(replace(replace(replace(replace(replace(replace('' + round(log(datum.value)/LN10), '-', '⁻'), '0', '⁰'), '1', '¹'), '2', '²'), '3', '³'), '4', '⁴'), '5', '⁵')","title":"x"}},
   "y":{"field":"y","type":"quantitative","scale":{"type":"log","domain":[9.9e-11,3.16e-4],"nice":false},"axis":{"values":[1e-10,1e-5],"labelExpr":"'10' + replace(replace(replace(replace(replace(replace(replace('' + round(log(datum.value)/LN10), '-', '⁻'), '0', '⁰'), '1', '¹'), '2', '²'), '3', '³'), '4', '⁴'), '5', '⁵')","title":"|⟨G₁(0)G₁(x)⟩|","titleX":-21}}}},
 {"data":{"name":"pts"},"transform":[{"filter":"datum.p=='e'"}],"mark":{"type":"point","shape":"circle","filled":false,"size":18,"stroke":"#0072BD","strokeWidth":0.75},
  "encoding":{"x":{"field":"x","type":"quantitative"},"y":{"field":"y","type":"quantitative"}}},
 {"data":{"values":[{}]},"mark":{"type":"text","align":"left","baseline":"alphabetic","font":"Liberation Serif","fontSize":10},"encoding":{"x":{"datum":1.1},"y":{"datum":1.885e-10},"text":{"value":"(e) N = 4"}}},
 {"data":{"values":[{}]},"mark":{"type":"text","align":"right","baseline":"alphabetic","font":"Liberation Serif","fontSize":7.5},"encoding":{"x":{"datum":60.9},"y":{"datum":1.108e-9},"text":{"value":"C = 0.00023949(−1)ˣx"}}},
 {"data":{"values":[{}]},"mark":{"type":"text","align":"left","baseline":"alphabetic","font":"Liberation Serif","fontSize":5},"encoding":{"x":{"datum":60.9},"y":{"datum":1.797e-9},"text":{"value":"−2.022"}}}
]},
{"width":133,"height":93,"layer":[
 {"data":{"name":"fit"},"transform":[{"filter":"datum.p=='f'"}],"mark":{"type":"line","stroke":"#D95319","strokeWidth":0.7},
  "encoding":{"x":{"field":"x","type":"quantitative","scale":{"type":"log","domain":[1,670],"nice":false},"axis":{"values":[1,10,100],"labelExpr":"'10' + replace(replace(replace(replace(replace(replace(replace('' + round(log(datum.value)/LN10), '-', '⁻'), '0', '⁰'), '1', '¹'), '2', '²'), '3', '³'), '4', '⁴'), '5', '⁵')","title":"x"}},
   "y":{"field":"y","type":"quantitative","scale":{"type":"log","domain":[4.2e-7,1],"nice":false},"axis":{"values":[1e-5,1],"labelExpr":"'10' + replace(replace(replace(replace(replace(replace(replace('' + round(log(datum.value)/LN10), '-', '⁻'), '0', '⁰'), '1', '¹'), '2', '²'), '3', '³'), '4', '⁴'), '5', '⁵')","title":"|⟨G₂(0)G₂(x)⟩|","titleX":-18}}}},
 {"data":{"name":"pts"},"transform":[{"filter":"datum.p=='f'"}],"mark":{"type":"point","shape":"circle","filled":false,"size":18,"stroke":"#0072BD","strokeWidth":0.75},
  "encoding":{"x":{"field":"x","type":"quantitative"},"y":{"field":"y","type":"quantitative"}}},
 {"data":{"values":[{}]},"mark":{"type":"text","align":"left","baseline":"alphabetic","font":"Liberation Serif","fontSize":10},"encoding":{"x":{"datum":1.1},"y":{"datum":7.9e-7},"text":{"value":"(f) N = 2"}}},
 {"data":{"values":[{}]},"mark":{"type":"text","align":"right","baseline":"alphabetic","font":"Liberation Serif","fontSize":7.5},"encoding":{"x":{"datum":26.5},"y":{"datum":7.2e-6},"text":{"value":"C = 0.2097(−1)ˣx"}}},
 {"data":{"values":[{}]},"mark":{"type":"text","align":"left","baseline":"alphabetic","font":"Liberation Serif","fontSize":5},"encoding":{"x":{"datum":26.5},"y":{"datum":1.156e-5},"text":{"value":"−1.998"}}}
]},
{"width":133,"height":93,"layer":[
 {"data":{"name":"fit"},"transform":[{"filter":"datum.p=='g'"}],"mark":{"type":"line","stroke":"#D95319","strokeWidth":0.7},
  "encoding":{"x":{"field":"x","type":"quantitative","scale":{"type":"log","domain":[1,670],"nice":false},"axis":{"values":[1,10,100],"labelExpr":"'10' + replace(replace(replace(replace(replace(replace(replace('' + round(log(datum.value)/LN10), '-', '⁻'), '0', '⁰'), '1', '¹'), '2', '²'), '3', '³'), '4', '⁴'), '5', '⁵')","title":"x"}},
   "y":{"field":"y","type":"quantitative","scale":{"type":"log","domain":[2.3e-7,1],"nice":false},"axis":{"values":[1e-5,1],"labelExpr":"'10' + replace(replace(replace(replace(replace(replace(replace('' + round(log(datum.value)/LN10), '-', '⁻'), '0', '⁰'), '1', '¹'), '2', '²'), '3', '³'), '4', '⁴'), '5', '⁵')","title":"|⟨G₂(0)G₂(x)⟩|","titleX":-19}}}},
 {"data":{"name":"pts"},"transform":[{"filter":"datum.p=='g'"}],"mark":{"type":"point","shape":"circle","filled":false,"size":18,"stroke":"#0072BD","strokeWidth":0.75},
  "encoding":{"x":{"field":"x","type":"quantitative"},"y":{"field":"y","type":"quantitative"}}},
 {"data":{"values":[{}]},"mark":{"type":"text","align":"left","baseline":"alphabetic","font":"Liberation Serif","fontSize":10},"encoding":{"x":{"datum":1.1},"y":{"datum":4.44e-7},"text":{"value":"(g) N = 3"}}},
 {"data":{"values":[{}]},"mark":{"type":"text","align":"right","baseline":"alphabetic","font":"Liberation Serif","fontSize":7.5},"encoding":{"x":{"datum":22.9},"y":{"datum":7.25e-6},"text":{"value":"C = 0.1051(−1)ˣx"}}},
 {"data":{"values":[{}]},"mark":{"type":"text","align":"left","baseline":"alphabetic","font":"Liberation Serif","fontSize":5},"encoding":{"x":{"datum":22.9},"y":{"datum":1.188e-5},"text":{"value":"−2.001"}}}
]},
{"width":133,"height":93,"layer":[
 {"data":{"name":"fit"},"transform":[{"filter":"datum.p=='h'"}],"mark":{"type":"line","stroke":"#D95319","strokeWidth":0.7},
  "encoding":{"x":{"field":"x","type":"quantitative","scale":{"type":"log","domain":[1,670],"nice":false},"axis":{"values":[1,100],"labelExpr":"'10' + replace(replace(replace(replace(replace(replace(replace('' + round(log(datum.value)/LN10), '-', '⁻'), '0', '⁰'), '1', '¹'), '2', '²'), '3', '³'), '4', '⁴'), '5', '⁵')","title":"x"}},
   "y":{"field":"y","type":"quantitative","scale":{"type":"log","domain":[9.9e-11,8.7e-3],"nice":false},"axis":{"values":[1e-10,1e-5],"labelExpr":"'10' + replace(replace(replace(replace(replace(replace(replace('' + round(log(datum.value)/LN10), '-', '⁻'), '0', '⁰'), '1', '¹'), '2', '²'), '3', '³'), '4', '⁴'), '5', '⁵')","title":"|⟨G₂(0)G₂(x)⟩|","titleX":-18}}}},
 {"data":{"name":"pts"},"transform":[{"filter":"datum.p=='h'"}],"mark":{"type":"point","shape":"circle","filled":false,"size":18,"stroke":"#0072BD","strokeWidth":0.75},
  "encoding":{"x":{"field":"x","type":"quantitative"},"y":{"field":"y","type":"quantitative"}}},
 {"data":{"values":[{}]},"mark":{"type":"text","align":"left","baseline":"alphabetic","font":"Liberation Serif","fontSize":10},"encoding":{"x":{"datum":1.1},"y":{"datum":2.17e-10},"text":{"value":"(h) N = 4"}}},
 {"data":{"values":[{}]},"mark":{"type":"text","align":"right","baseline":"alphabetic","font":"Liberation Serif","fontSize":7.5},"encoding":{"x":{"datum":60.9},"y":{"datum":1.89e-9},"text":{"value":"C = 0.0006082(−1)ˣx"}}},
 {"data":{"values":[{}]},"mark":{"type":"text","align":"left","baseline":"alphabetic","font":"Liberation Serif","fontSize":5},"encoding":{"x":{"datum":60.9},"y":{"datum":3.41e-9},"text":{"value":"−2.003"}}}
]}
]
}
